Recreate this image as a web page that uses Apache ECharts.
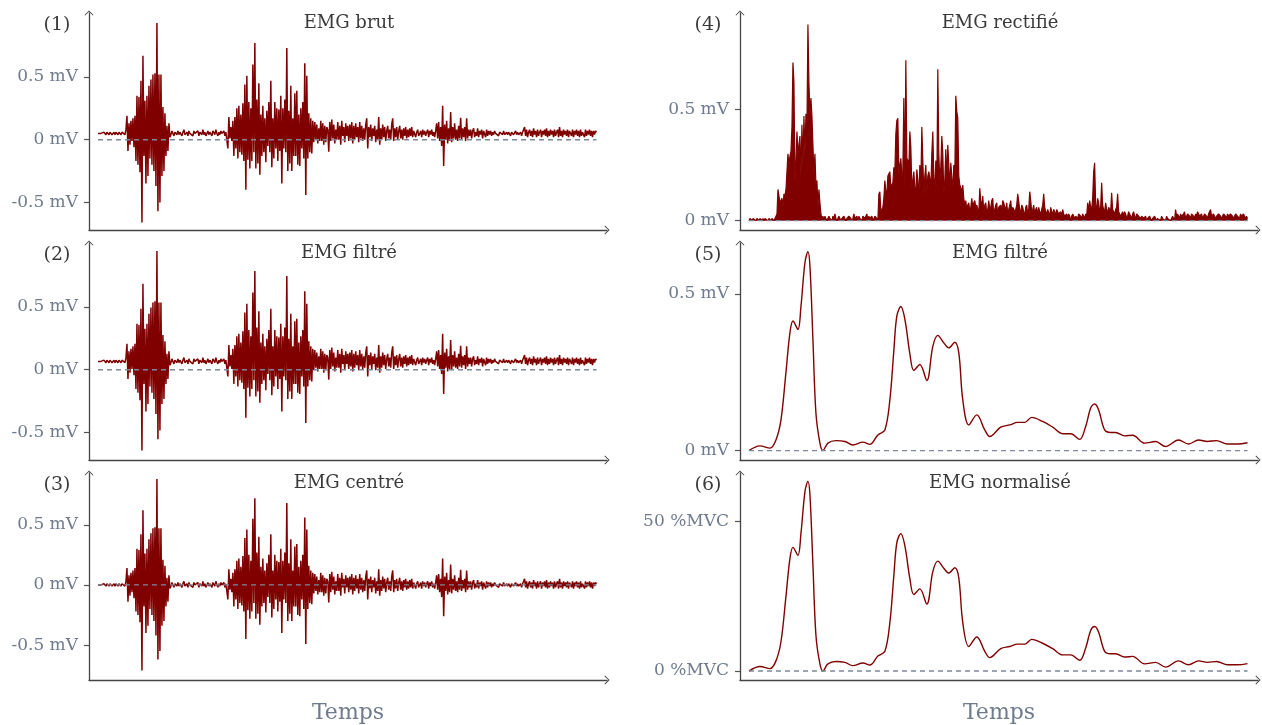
<!DOCTYPE html>
<html><head><meta charset="utf-8">
<script src="https://cdn.jsdelivr.net/npm/echarts@6/dist/echarts.min.js"></script>
<style>html,body{margin:0;padding:0;background:#fff}#chart{width:1262px;height:725px}</style>
</head><body><div id="chart"></div>
<script>
// ---------- data ----------
const panelTitles = ['EMG brut', 'EMG filtré', 'EMG centré', 'EMG rectifié', 'EMG filtré', 'EMG normalisé'];
const panelNumbers = ['(1)', '(2)', '(3)', '(4)', '(5)', '(6)'];
const xAxisName = 'Temps';
const ticksSigned = [-0.5, 0, 0.5];   // mV
const ticksRect = [0, 0.5];           // mV
const ticksNorm = [0, 50];            // %MVC
const offsetBrut = 0.05;              // mV, DC offset of the raw signal
const offsetFiltre = 0.066;           // mV, DC offset after filtering
const mvcMv = 1.0;                    // mV corresponding to 100 %MVC

// centred EMG samples (mV), one per time step
const emgCentre = [
  // quiet 0-27
  0.00, 0.01, -0.01, 0.00, 0.01, -0.01, 0.01, 0.00, -0.01, 0.01,
  0.00, -0.01, 0.01, 0.00, -0.01, 0.00, 0.01, -0.01, 0.01, 0.00,
  -0.01, 0.01, 0.00, -0.01, 0.01, 0.00, 0.01, -0.01,
  // burst 1: 28-72
  0.03, 0.14, -0.14, 0.08, -0.09, 0.10, -0.06, 0.12, -0.11, 0.14,
  -0.22, 0.30, -0.25, 0.29, -0.31, 0.42, -0.71, 0.62, -0.18, 0.26,
  -0.40, 0.30, -0.34, 0.38, -0.20, 0.43, -0.25, 0.47, -0.30, 0.48,
  -0.42, 0.88, -0.62, 0.47, -0.55, 0.47, -0.34, 0.21, -0.30, 0.16,
  -0.18, 0.06, -0.14, 0.08, -0.03,
  // quiet 73-129
  -0.01, 0.02, 0.00, -0.02, 0.01, 0.00, -0.01, 0.02, -0.01, 0.01,
  0.00, -0.02, 0.01, 0.03, -0.01, 0.00, 0.01, -0.02, 0.02, 0.00,
  -0.01, 0.01, -0.02, 0.02, 0.00, -0.01, 0.01, 0.02, -0.02, 0.01,
  0.00, -0.01, 0.03, -0.01, 0.01, -0.02, 0.00, 0.02, -0.01, 0.01,
  0.00, -0.02, 0.02, 0.01, -0.01, 0.03, 0.00, -0.02, 0.01, -0.01,
  0.02, 0.00, -0.01, 0.02, -0.02, 0.01, 0.00,
  // burst 2: 130-216
  -0.12, 0.13, -0.04, 0.05, -0.06, 0.10, -0.18, 0.13, -0.12, 0.20,
  -0.20, 0.22, -0.15, 0.15, -0.17, 0.24, -0.22, 0.39, -0.45, 0.46,
  -0.21, 0.25, -0.28, 0.20, -0.22, 0.55, -0.15, 0.72, -0.28, 0.27,
  -0.24, 0.40, -0.33, 0.15, -0.18, 0.22, -0.15, 0.12, -0.23, 0.18,
  -0.10, 0.25, -0.15, 0.42, -0.27, 0.12, -0.20, 0.25, -0.12, 0.20,
  -0.22, 0.19, -0.14, 0.30, -0.40, 0.20, -0.12, 0.27, -0.15, 0.68,
  -0.30, 0.18, -0.24, 0.38, -0.30, 0.12, -0.18, 0.32, -0.18, 0.34,
  -0.25, 0.15, -0.26, 0.20, -0.12, 0.25, -0.20, 0.56, -0.49, 0.46,
  -0.20, 0.16, -0.15, 0.12, -0.16, 0.10, -0.07,
  // tail 217-316
  0.09, -0.05, 0.07, -0.08, 0.04, -0.06, 0.10, -0.06, 0.08, -0.09,
  0.06, -0.07, 0.05, 0.03, -0.145, 0.09, -0.06, 0.11, -0.04, 0.07,
  -0.08, 0.03, -0.05, 0.09, -0.05, 0.06, -0.09, 0.10, -0.02, 0.05,
  -0.07, 0.08, -0.02, 0.06, -0.06, 0.07, -0.04, 0.09, -0.08, 0.06,
  -0.05, 0.08, -0.03, 0.05, -0.07, 0.09, -0.04, 0.06, -0.06, 0.04,
  -0.05, 0.07, 0.12, -0.12, 0.05, -0.03, 0.07, -0.06, 0.04, -0.02,
  0.06, -0.07, 0.03, -0.05, 0.13, -0.09, 0.04, -0.05, 0.07, -0.03,
  0.05, -0.06, 0.02, 0.06, -0.04, 0.03, -0.05, 0.07, 0.12, -0.06,
  0.04, -0.03, 0.05, -0.05, 0.02, 0.06, -0.04, 0.03, -0.05, 0.04,
  -0.02, 0.05, -0.04, 0.03, -0.03, 0.04, -0.02, 0.05, -0.03, 0.02,
  // low 317-341
  0.02, -0.03, 0.01, 0.03, -0.02, 0.00, 0.02, -0.03, 0.03, -0.01,
  0.02, -0.02, 0.01, 0.03, -0.03, 0.02, -0.01, 0.03, -0.02, 0.01,
  -0.03, 0.02, 0.08, -0.04, 0.09,
  // burst 3: 342-372
  -0.06, 0.05, -0.10, 0.22, -0.26, 0.07, -0.05, 0.10, -0.08, 0.04,
  -0.06, 0.17, -0.07, 0.05, -0.04, 0.08, -0.05, 0.03, -0.06, 0.06,
  -0.04, 0.125, -0.05, 0.04, -0.03, 0.05, -0.06, 0.12, -0.04, 0.03,
  -0.02,
  // 373-394
  0.03, -0.04, 0.02, 0.04, -0.03, 0.01, -0.02, 0.04, -0.03, 0.02,
  -0.01, 0.03, -0.04, 0.02, 0.01, -0.03, 0.03, -0.02, 0.02, -0.01,
  0.02, -0.02,
  // quiet 395-426
  0.01, -0.01, 0.02, 0.00, -0.01, 0.01, -0.02, 0.01, 0.00, 0.01,
  -0.01, 0.02, -0.01, 0.00, 0.01, -0.01, 0.01, 0.00, -0.02, 0.01,
  0.01, -0.01, 0.00, 0.02, -0.01, 0.01, -0.01, 0.00, 0.01, -0.02,
  0.01, 0.00,
  // 427-499
  0.05, -0.02, 0.03, -0.03, 0.01, 0.03, -0.02, 0.02, -0.03, 0.04,
  -0.01, 0.02, -0.03, 0.03, -0.02, 0.01, 0.03, -0.03, 0.02, -0.01,
  0.03, -0.02, 0.04, -0.03, 0.02, -0.02, 0.03, -0.01, 0.02, -0.03,
  0.03, -0.02, 0.01, 0.03, -0.03, 0.05, -0.02, 0.02, -0.03, 0.03,
  -0.01, 0.02, -0.02, 0.03, -0.03, 0.02, 0.01, -0.02, 0.03, -0.03,
  0.02, -0.01, 0.03, -0.02, 0.02, -0.03, 0.03, -0.02, 0.01, 0.02,
  -0.03, 0.03, -0.02, 0.02, -0.01, 0.03, -0.02, 0.02, -0.03, 0.02,
  -0.01, 0.02, 0.01
];

// low-pass envelope (mV)
const envTime = [0, 11, 21, 27, 32, 37, 41, 44, 49, 52, 56, 59, 61, 64, 67, 71, 74, 79, 87, 96,
  104, 114, 121, 129, 136, 141, 145, 148, 152, 156, 161, 165, 171, 178, 184, 189, 195, 200, 206, 210,
  214, 220, 228, 236, 241, 252, 261, 269, 276, 283, 294, 304, 314, 322, 331, 337, 342, 346, 350, 356,
  362, 367, 376, 384, 396, 407, 417, 430, 440, 450, 459, 468, 479, 489, 499];
const envValue = [0.000, 0.015, 0.008, 0.034, 0.098, 0.250, 0.377, 0.414, 0.387, 0.460, 0.600, 0.635, 0.590, 0.355, 0.120, 0.024, 0.000, 0.024, 0.032, 0.029,
  0.018, 0.027, 0.020, 0.050, 0.066, 0.162, 0.320, 0.430, 0.460, 0.420, 0.310, 0.256, 0.275, 0.224, 0.333, 0.368, 0.344, 0.328, 0.346, 0.312,
  0.162, 0.082, 0.114, 0.066, 0.045, 0.075, 0.082, 0.090, 0.090, 0.106, 0.093, 0.075, 0.054, 0.054, 0.036, 0.077, 0.136, 0.149, 0.130, 0.066,
  0.058, 0.058, 0.047, 0.049, 0.024, 0.029, 0.013, 0.034, 0.021, 0.034, 0.029, 0.032, 0.021, 0.021, 0.025];

// ---------- build ----------
const r3 = v => Math.round(v * 1000) / 1000;
const lastT = emgCentre.length - 1;
const sBrut = emgCentre.map((v, i) => [i, r3(v + offsetBrut)]);
const sFiltre = emgCentre.map((v, i) => [i, r3(v + offsetFiltre)]);
const sCentre = emgCentre.map((v, i) => [i, v]);
const sRect = emgCentre.map((v, i) => [i, Math.abs(v)]);
const sEnv = envTime.map((t, i) => [t, envValue[i]]);
const sNorm = envTime.map((t, i) => [t, r3(envValue[i] / mvcMv * 100)]);
const zeroData = [[0, 0], [lastT, 0]];

const SERIF = '"DejaVu Serif", "Liberation Serif", serif';
const SIG = '#800000';
const AXC = '#444444';
const LBL = '#6f7b8d';
const CHEV = 'path://M0,10L10,0L20,10L18.6,11.4L10,2.8L1.4,11.4Z';

const gridPos = [
  {left: 89, top: 13}, {left: 89, top: 243}, {left: 89, top: 473},
  {left: 740, top: 13}, {left: 740, top: 243}, {left: 740, top: 473}
];
const grids = gridPos.map(p => ({left: p.left, top: p.top, width: 518, height: 217, containLabel: false}));

const xAxes = grids.map((g, i) => ({
  type: 'value', gridIndex: i, min: -9, max: 509.5,
  axisLine: {show: true, onZero: false, symbol: ['none', CHEV], symbolSize: [9, 6],
    lineStyle: {color: AXC, width: 1.3}},
  axisTick: {show: false}, axisLabel: {show: false}, splitLine: {show: false},
  name: (i === 2 || i === 5) ? xAxisName : '',
  nameLocation: 'middle', nameGap: 22,
  nameTextStyle: {color: LBL, fontFamily: SERIF, fontSize: 22}
}));

function yAx(i, min, max, ticks, unit) {
  return {
    type: 'value', gridIndex: i, min: min, max: max,
    axisLine: {show: true, onZero: false, symbol: ['none', CHEV], symbolSize: [9, 6],
      lineStyle: {color: AXC, width: 1.3}},
    axisTick: {show: true, length: 5, customValues: ticks, lineStyle: {color: '#555', width: 1.2}},
    axisLabel: {show: true, customValues: ticks, formatter: v => v + ' ' + unit,
      color: LBL, fontFamily: SERIF, fontSize: 17, margin: 11},
    splitLine: {show: false}
  };
}
const yAxes = [
  yAx(0, -0.72, 1.01, ticksSigned, 'mV'),
  yAx(1, -0.72, 1.01, ticksSigned, 'mV'),
  yAx(2, -0.79, 0.93, ticksSigned, 'mV'),
  yAx(3, -0.042, 0.932, ticksRect, 'mV'),
  yAx(4, -0.03, 0.663, ticksRect, 'mV'),
  yAx(5, -3, 66.3, ticksNorm, '%MVC')
];

function sig(i, data, opts) {
  opts = opts || {};
  const s = {type: 'line', xAxisIndex: i, yAxisIndex: i, data: data, showSymbol: false, symbol: 'none',
    smooth: opts.smooth || false, lineStyle: {color: SIG, width: opts.width || 1.5}, z: 2, silent: true};
  if (opts.area) s.areaStyle = {color: SIG, opacity: 1};
  return s;
}
function zero(i) {
  return {type: 'line', xAxisIndex: i, yAxisIndex: i, data: zeroData, showSymbol: false, symbol: 'none',
    lineStyle: {color: '#7d889b', width: 1.4, type: [5, 4]}, z: 3, silent: true};
}
const series = [
  sig(0, sBrut), zero(0),
  sig(1, sFiltre), zero(1),
  sig(2, sCentre), zero(2),
  sig(3, sRect, {width: 1.2, area: true}), zero(3),
  sig(4, sEnv, {smooth: 0.35, width: 1.4}), zero(4),
  sig(5, sNorm, {smooth: 0.35, width: 1.4}), zero(5)
];

const titleCenters = [[349, 23], [349, 253], [349, 483], [1000, 23], [1000, 253], [1000, 483]];
const numCenters = [[57, 25], [57, 255], [57, 485], [708, 25], [708, 255], [708, 485]];
const graphic = [];
panelTitles.forEach((t, i) => graphic.push({type: 'text', silent: true,
  style: {text: t, x: titleCenters[i][0], y: titleCenters[i][1], fill: '#3a3a3a',
    font: '18px ' + SERIF, align: 'center', verticalAlign: 'middle', textAlign: 'center', textVerticalAlign: 'middle'}}));
panelNumbers.forEach((t, i) => graphic.push({type: 'text', silent: true,
  style: {text: t, x: numCenters[i][0], y: numCenters[i][1], fill: '#3a3a3a',
    font: '19px ' + SERIF, align: 'center', verticalAlign: 'middle', textAlign: 'center', textVerticalAlign: 'middle'}}));

const chart = echarts.init(document.getElementById('chart'), null, {renderer: 'canvas'});
chart.setOption({
  backgroundColor: '#ffffff',
  animation: false,
  grid: grids, xAxis: xAxes, yAxis: yAxes, series: series, graphic: graphic
});
</script></body></html>
